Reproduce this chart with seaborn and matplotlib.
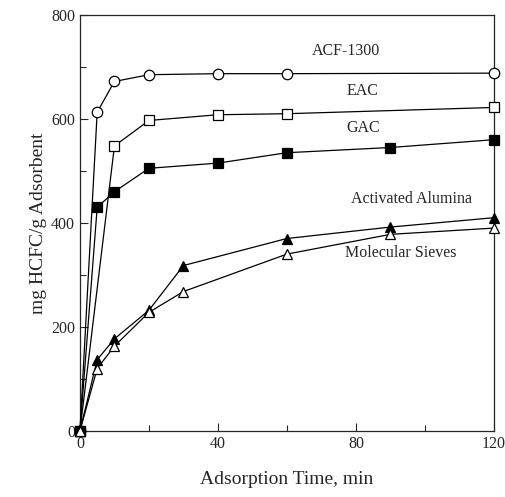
import numpy as np
import pandas as pd
import matplotlib
matplotlib.use('Agg')
import matplotlib.pyplot as plt
import seaborn as sns

# adsorption data
time_acf = [0, 5, 10, 20, 40, 60, 120]
acf1300 = [0, 613, 672, 685, 687, 687, 688]

time_eac = [0, 10, 20, 40, 60, 120]
eac = [0, 548, 597, 608, 610, 622]

time_gac = [0, 5, 10, 20, 40, 60, 90, 120]
gac = [0, 430, 460, 505, 515, 535, 545, 560]

time_tri = [0, 5, 10, 20, 30, 60, 90, 120]
alumina = [0, 137, 177, 232, 318, 370, 392, 410]
sieves = [0, 120, 163, 228, 268, 340, 378, 390]

sns.set_style("ticks")
plt.rcParams['font.family'] = ['Liberation Serif', 'DejaVu Serif']

fig = plt.figure(figsize=(5.06, 4.97), dpi=100)
ax = fig.add_axes([0.158, 0.133, 0.818, 0.837])

series = [
    (time_acf, acf1300, 'o', 'white'),
    (time_eac, eac, 's', 'white'),
    (time_gac, gac, 's', 'black'),
    (time_tri, alumina, '^', 'black'),
    (time_tri, sieves, '^', 'white'),
]
for t, v, m, fc in series:
    df = pd.DataFrame({'t': t, 'v': v})
    sns.lineplot(data=df, x='t', y='v', ax=ax, color='black', lw=0.9,
                 marker=m, markersize=7.5, markerfacecolor=fc,
                 markeredgecolor='black', markeredgewidth=0.9, clip_on=False, zorder=3)

ax.text(77, 723, 'ACF-1300', ha='center', fontsize=11.5)
ax.text(82, 646, 'EAC', ha='center', fontsize=11.5)
ax.text(82, 575, 'GAC', ha='center', fontsize=11.5)
ax.text(96, 438, 'Activated Alumina', ha='center', fontsize=11.5)
ax.text(93, 335, 'Molecular Sieves', ha='center', fontsize=11.5)

ax.set_xlim(0, 120)
ax.set_ylim(0, 800)
ax.set_xticks([0, 40, 80, 120])
ax.set_xticks([20, 60, 100], minor=True)
ax.set_yticks([0, 200, 400, 600, 800])
ax.set_yticks([100, 300, 500, 700], minor=True)
ax.tick_params(direction='in', length=6, width=0.8, labelsize=11.5, top=False, right=False)
ax.tick_params(which='minor', direction='in', length=4, width=0.8)
for s in ax.spines.values():
    s.set_linewidth(0.9)

ax.set_xlabel('Adsorption Time, min', fontsize=14, labelpad=14)
ax.set_ylabel('mg HCFC/g Adsorbent', fontsize=14, labelpad=3)

fig.savefig('out.png', dpi=100)
